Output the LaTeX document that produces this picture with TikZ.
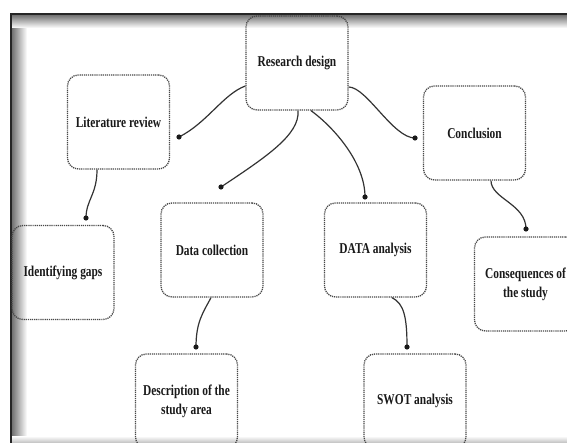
\documentclass[tikz,border=0pt]{standalone}
\usepackage{fontspec}
\setmainfont{Liberation Serif}[FakeStretch=0.76]
\begin{document}
\begin{tikzpicture}[x=1pt,y=-1pt,
  box/.style={draw=black!72, dash pattern=on 1.2pt off 0.9pt, line width=1.3pt, rounded corners=11pt,
    minimum width=102pt, minimum height=94pt, align=center, inner sep=2pt,
    font=\fontsize{15}{19}\selectfont\bfseries, text=black!90},
  link/.style={draw=black!80, line width=1.2pt},
  dotend/.style={fill=black!90}]
\useasboundingbox (0,0) rectangle (567,443);
\fill[white] (0,0) rectangle (567,443);
% frame shadows
\shade[left color=black!55, right color=white] (12,14) rectangle (27,443);
\shade[top color=black!55, bottom color=white] (12,15) rectangle (567,28);
\shade[top color=white, bottom color=black!25] (12,436) rectangle (567,443);
\draw[black!85, line width=2.2pt] (11,443) -- (11,14) -- (567,14);
% boxes
\node[box] (rd) at (297,63) {Research design};
\node[box] (lr) at (118.5,122) {Literature review};
\node[box] (con) at (474.5,133) {Conclusion};
\node[box] (ig) at (63,272.5) {Identifying gaps};
\node[box] (dc) at (212,250) {Data collection};
\node[box] (da) at (375.5,250) {DATA analysis};
\node[box] (cs) at (525.5,284) {Consequences of\\the study};
\node[box] (ds) at (186.5,401) {Description of the\\study area};
\node[box] (sw) at (415,401) {SWOT analysis};
% dot ends
\coordinate (d1) at (179,137);
\coordinate (d2) at (221,187);
\coordinate (d3) at (365,197);
\coordinate (d4) at (415,138);
\coordinate (d5) at (86,218);
\coordinate (d6) at (526,229);
\coordinate (d7) at (196,347);
\coordinate (d8) at (407,347);
% connectors
\draw[link] (rd.west |- 0,86) .. controls +(-22,8) and +(28,-14) .. (d1);
\draw[link] (298,0 |- rd.south) .. controls +(2,24) and +(45,-30) .. (d2);
\draw[link] (311,0 |- rd.south) .. controls +(22,16) and +(0,-35) .. (d3);
\draw[link] (rd.east |- 0,87) .. controls +(18,0) and +(-22,0) .. (d4);
\draw[link] (97,0 |- lr.south) .. controls +(0,25) and +(0,-18) .. (d5);
\draw[link] (491,0 |- con.south) .. controls +(0,18) and +(0,-25) .. (d6);
\draw[link] (211,0 |- dc.south) .. controls +(-8,15) and +(0,-25) .. (d7);
\draw[link] (392,0 |- da.south) .. controls +(12,6) and +(0,-30) .. (d8);
\foreach \d in {d1,d2,d3,d4,d5,d6,d7,d8} \fill[dotend] (\d) circle (2.6pt);
\end{tikzpicture}
\end{document}
